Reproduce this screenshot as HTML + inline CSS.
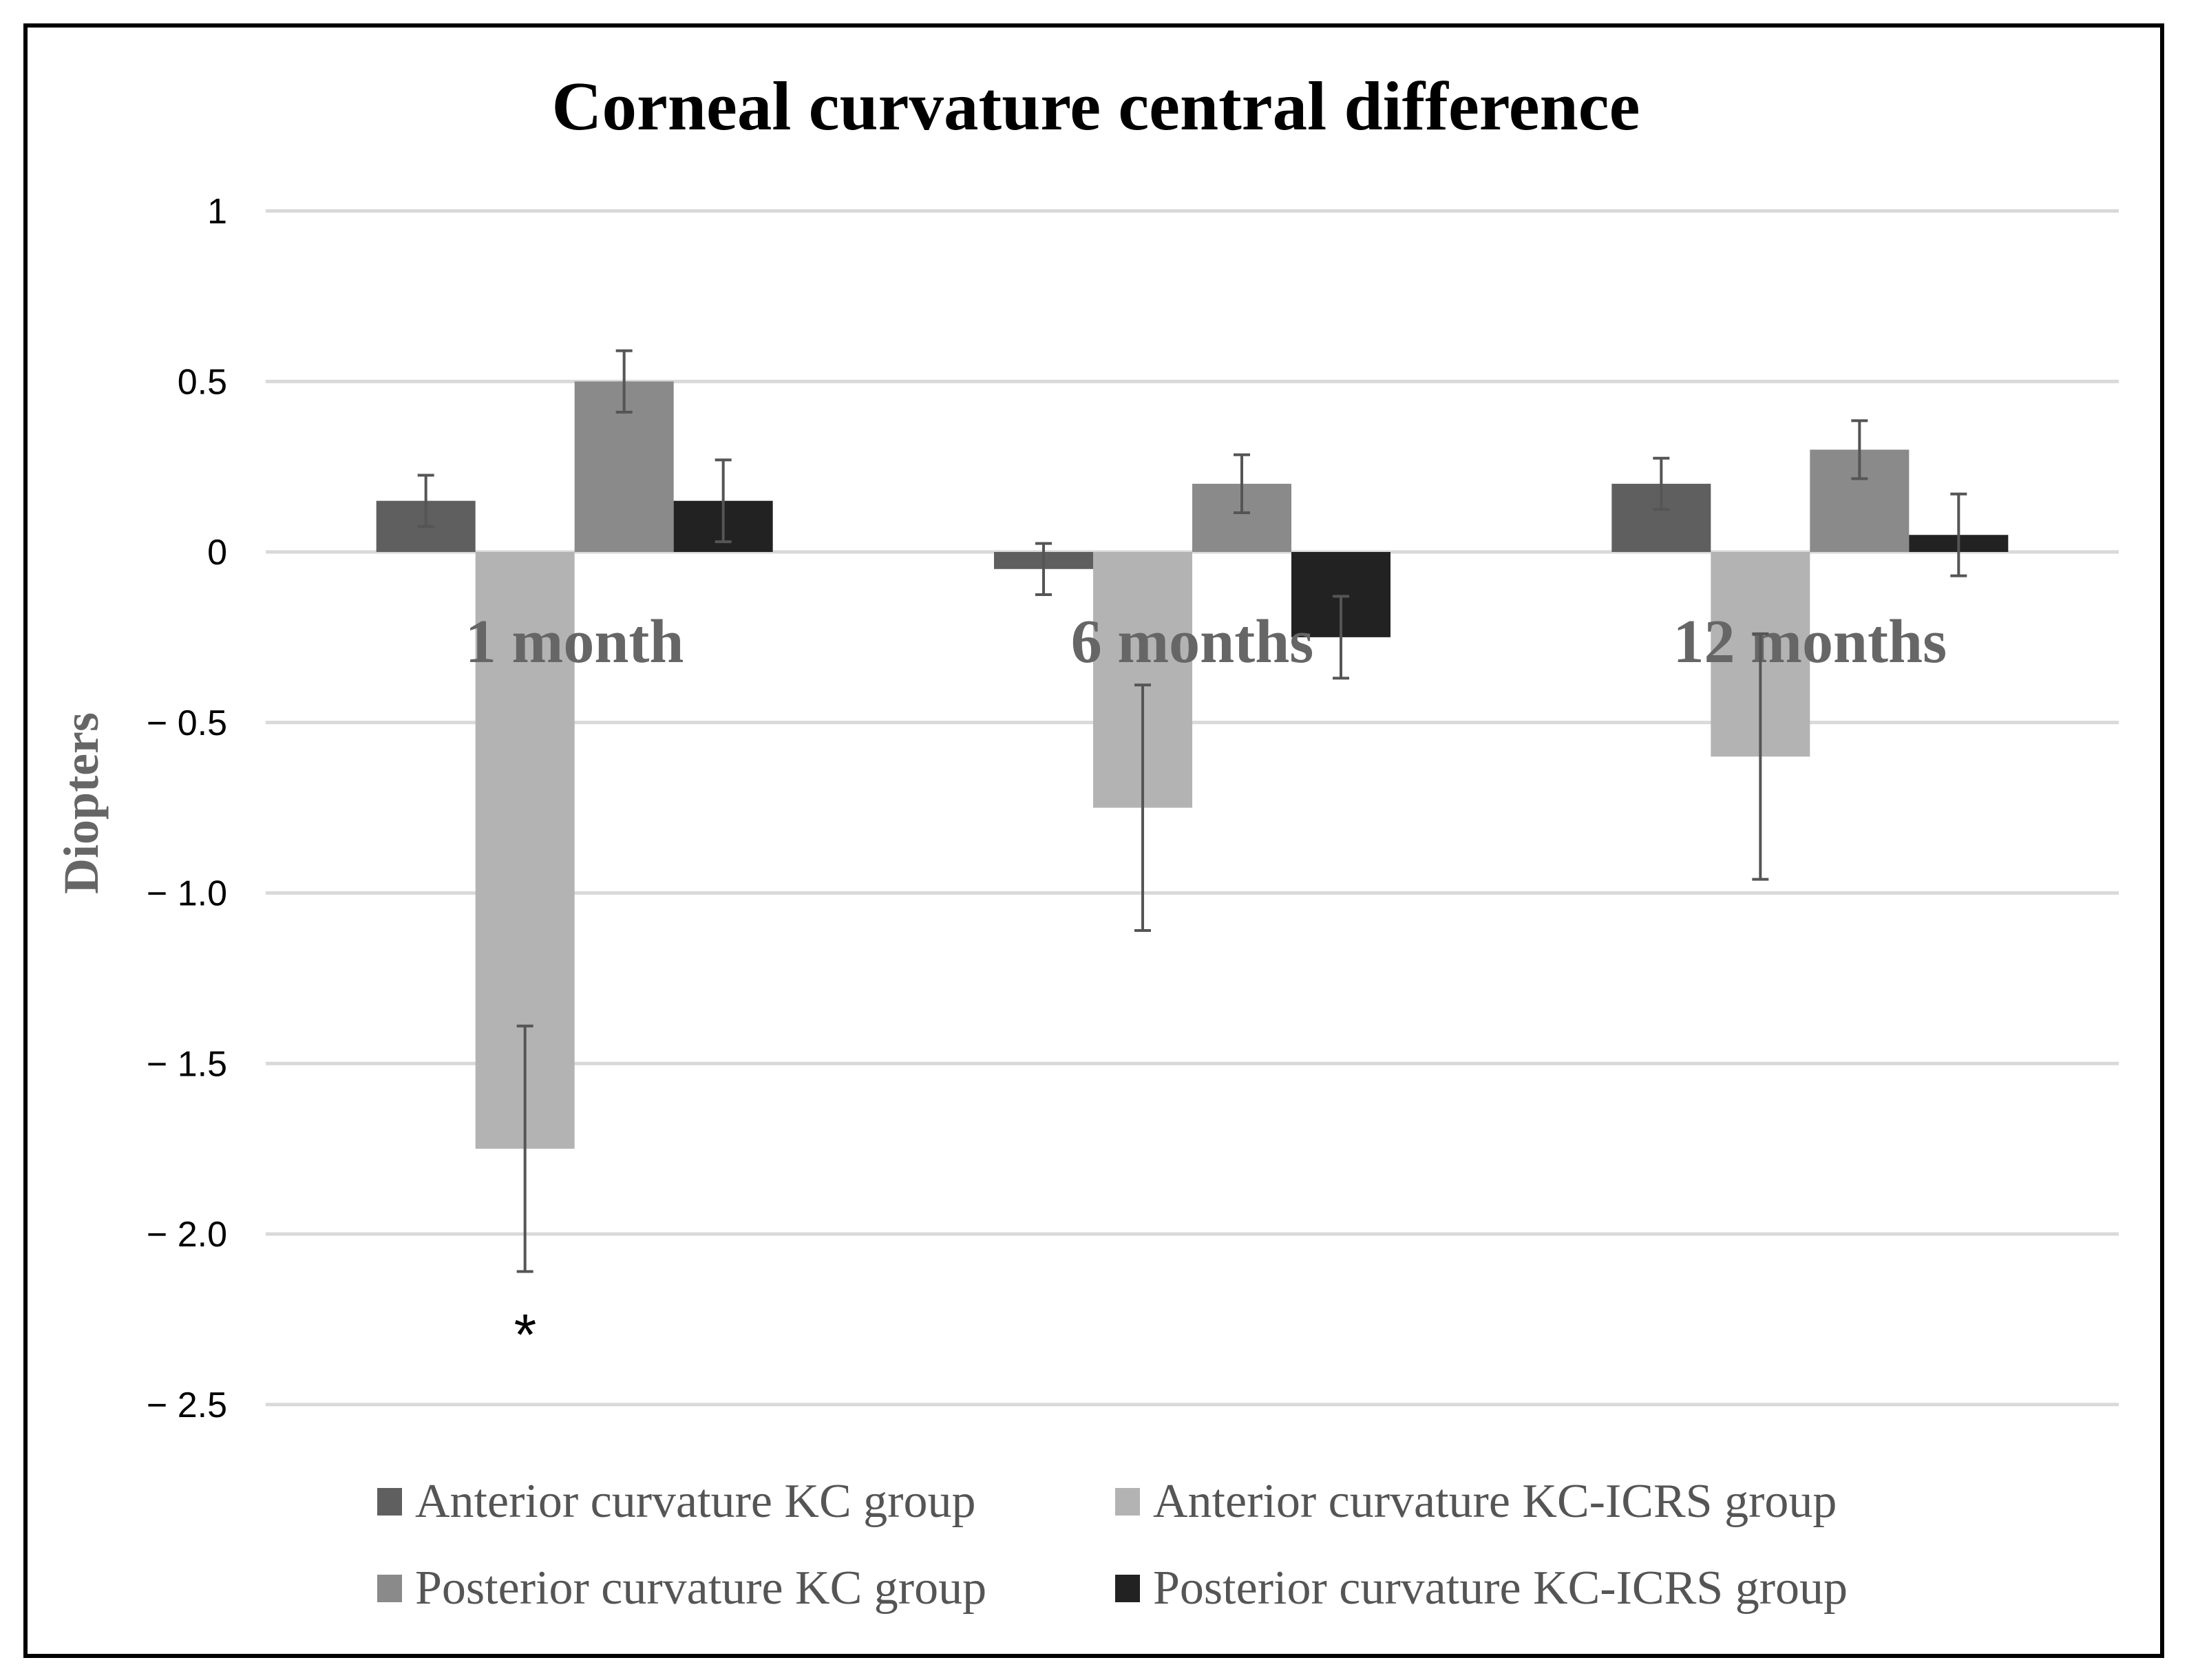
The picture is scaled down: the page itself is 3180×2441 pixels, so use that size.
<!DOCTYPE html>
<html><head><meta charset="utf-8">
<style>
html,body{margin:0;padding:0;background:#fff;}
svg{display:block;}
</style></head>
<body>
<svg id="chart" width="3180" height="2441" viewBox="0 0 3180 2441" xmlns="http://www.w3.org/2000/svg">
<rect x="37" y="37" width="3104" height="2369" fill="#fff" stroke="#000" stroke-width="6"/>
<text x="1592" y="188" text-anchor="middle" font-family="Liberation Serif, serif" font-weight="bold" font-size="101" fill="#000">Corneal curvature central difference</text>
<g id="grid"></g>
<g id="yticks"></g>
<g id="bars"></g>
<g id="cats"></g>
<g id="errs"></g>
<text transform="translate(142,1167) rotate(-90)" text-anchor="middle" font-family="Liberation Serif, serif" font-weight="bold" font-size="72" fill="#666">Diopters</text>
<text x="763" y="1968" text-anchor="middle" font-family="Liberation Sans, sans-serif" font-size="84" fill="#000">*</text>
<g id="legend"></g>
</svg>
<script>
const categories = ["1 month", "6 months", "12 months"];
const seriesNames = ["Anterior curvature KC group", "Anterior curvature KC-ICRS group", "Posterior curvature KC group", "Posterior curvature KC-ICRS group"];
const antKC = [0.15, -0.05, 0.2];
const antICRS = [-1.75, -0.75, -0.6];
const postKC = [0.5, 0.2, 0.3];
const postICRS = [0.15, -0.25, 0.05];
const antKCErr = [0.075, 0.075, 0.075];
const antICRSErr = [0.36, 0.36, 0.36];
const postKCErr = [0.09, 0.085, 0.085];
const postICRSErr = [0.12, 0.12, 0.12];
const tickValues = [1, 0.5, 0, -0.5, -1.0, -1.5, -2.0, -2.5];
const tickLabels = ["1", "0.5", "0", "\u2212 0.5", "\u2212 1.0", "\u2212 1.5", "\u2212 2.0", "\u2212 2.5"];

const NS = "http://www.w3.org/2000/svg";
const colors = ["#5f5f5f", "#b3b3b3", "#8a8a8a", "#222222"];
const series = [antKC, antICRS, postKC, postICRS];
const errs = [antKCErr, antICRSErr, postKCErr, postICRSErr];
const x0 = 386, x1 = 3078;
function y(v){ return 802 - v * 495.5; }
const groupW = (x1 - x0) / categories.length;
const barW = 144;
function cx(i){ return x0 + groupW * (i + 0.5); }
function mk(tag, attrs, parent){ const e = document.createElementNS(NS, tag); for (const k in attrs) e.setAttribute(k, attrs[k]); parent.appendChild(e); return e; }

const grid = document.getElementById('grid'), yt = document.getElementById('yticks');
tickValues.forEach((v, i) => {
  const l = mk('line', {x1: x0, x2: x1, y1: y(v), y2: y(v), stroke: '#d9d9d9', 'stroke-width': 5}, grid);
  
  
  const t = mk('text', {x: 330, y: y(v) + 18, 'text-anchor': 'end', 'font-family': 'Liberation Sans, sans-serif', 'font-size': 52, fill: '#000'}, yt);
  t.textContent = tickLabels[i];
  
  
});

const bars = document.getElementById('bars'), eg = document.getElementById('errs'), cg = document.getElementById('cats');
categories.forEach((c, i) => {
  const start = cx(i) - 2 * barW;
  series.forEach((s, k) => {
    const v = s[i], bx = start + k * barW;
    const top = Math.min(y(v), y(0)), h = Math.abs(y(v) - y(0));
    const r = mk('rect', {x: bx, y: top, width: barW, height: h, fill: colors[k]}, bars);
    
    
    const ex = bx + barW / 2, e = errs[k][i];
    const g = mk('g', {stroke: '#555', 'stroke-width': 4}, eg);
    
    
    mk('line', {x1: ex, x2: ex, y1: y(v + e), y2: y(v - e)}, g);
    mk('line', {x1: ex - 12, x2: ex + 12, y1: y(v + e), y2: y(v + e)}, g);
    mk('line', {x1: ex - 12, x2: ex + 12, y1: y(v - e), y2: y(v - e)}, g);
  });
  const t = mk('text', {x: cx(i), y: 962, 'text-anchor': 'middle', 'font-family': 'Liberation Serif, serif', 'font-weight': 'bold', 'font-size': 90, fill: '#666'}, cg);
  t.textContent = c;
  
  
});

const lg = document.getElementById('legend');
const legPos = [[548, 2182], [1620, 2182], [548, 2308], [1620, 2308]];
const legOrder = [0, 1, 2, 3];
legOrder.forEach((k, j) => {
  const [lx, ly] = legPos[j];
  const g = mk('g', {}, lg);
  
  
  mk('rect', {x: lx, y: ly - 20, width: 36, height: 40, fill: colors[k]}, g);
  const t = mk('text', {x: lx + 55, y: ly + 22, 'font-family': 'Liberation Serif, serif', 'font-size': 70, fill: '#555'}, g);
  t.textContent = seriesNames[k];
});
</script>
</body></html>
